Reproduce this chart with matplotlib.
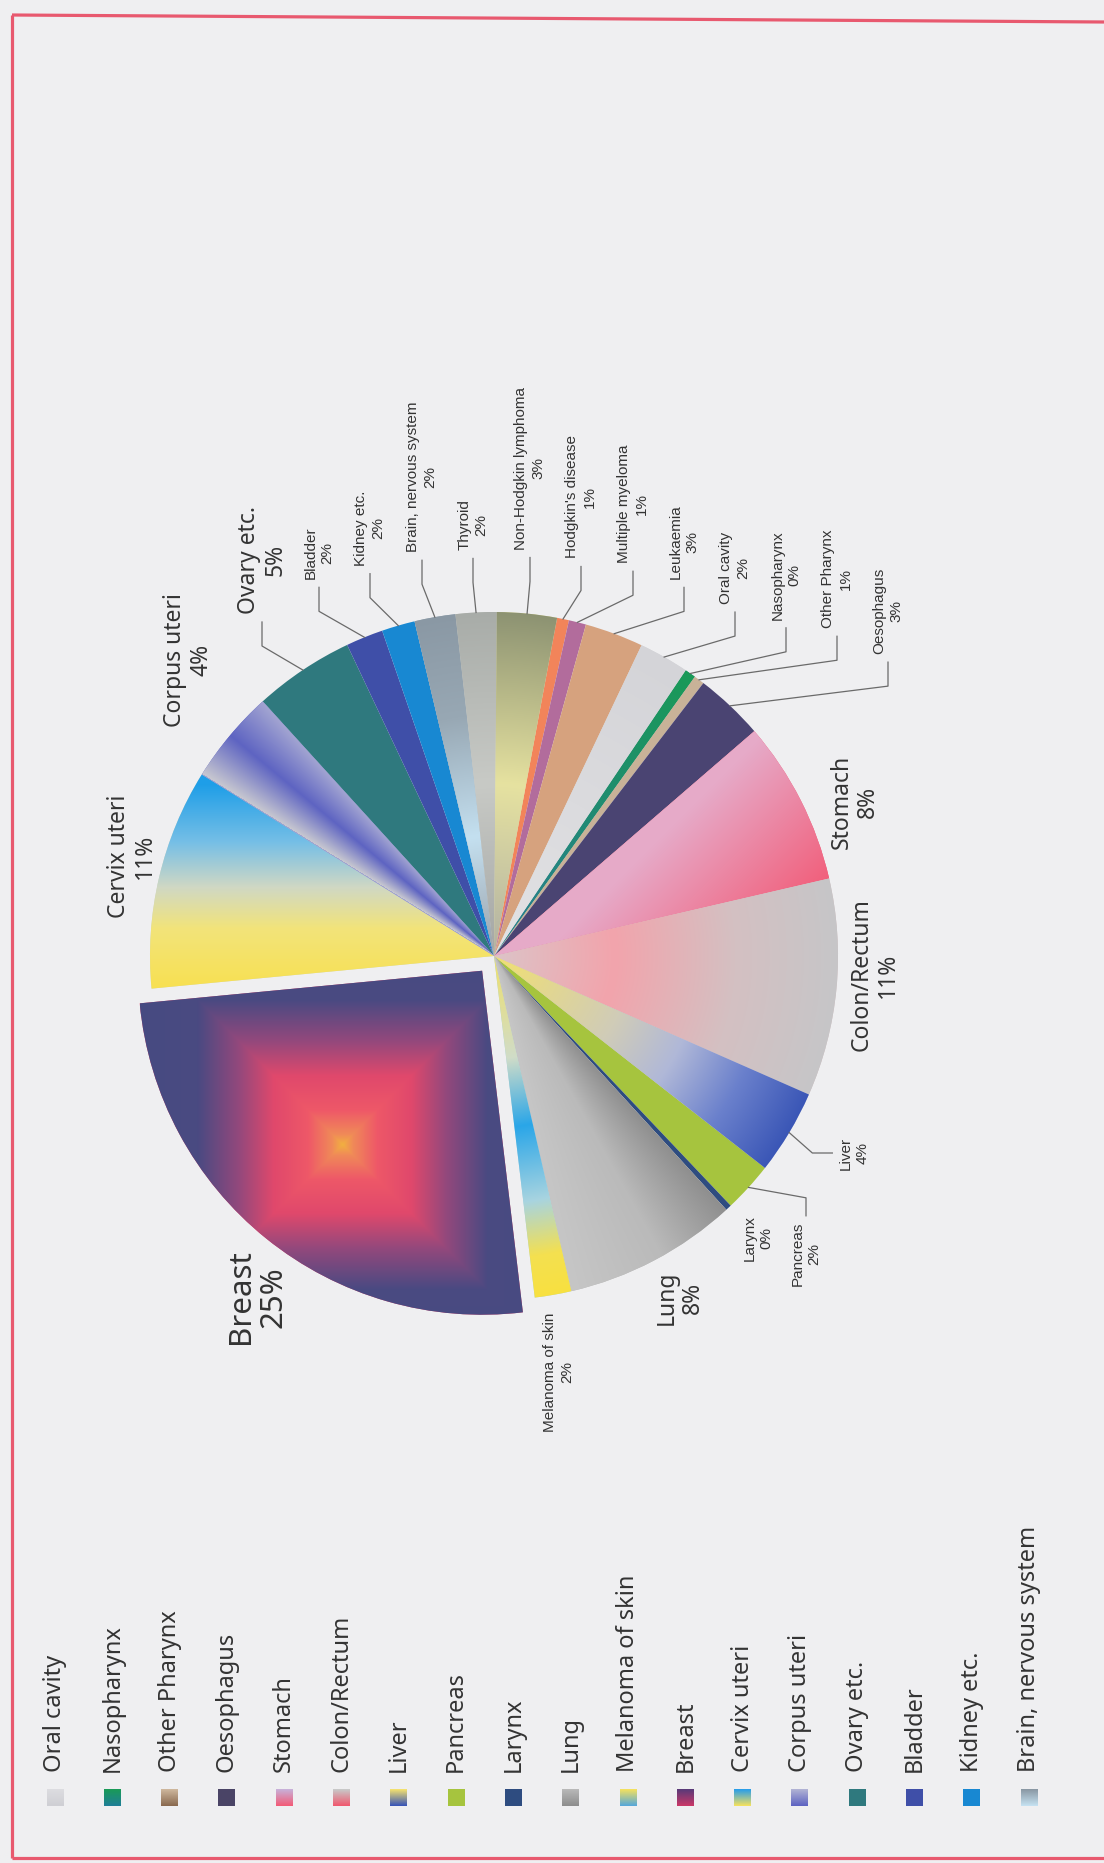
import numpy as np
import matplotlib
matplotlib.use("Agg")
import matplotlib.pyplot as plt
from matplotlib.colors import to_rgb

plt.rcParams['font.family'] = ['Noto Sans', 'DejaVu Sans']

W, H = 1104, 1863

# slices, clockwise from Oral cavity (shares)
sites = ["Oral cavity", "Nasopharynx", "Other Pharynx", "Oesophagus", "Stomach",
         "Colon/Rectum", "Liver", "Pancreas", "Larynx", "Lung", "Melanoma of skin",
         "Breast", "Cervix uteri", "Corpus uteri", "Ovary etc.", "Bladder",
         "Kidney etc.", "Brain, nervous system", "Thyroid", "Non-Hodgkin lymphoma",
         "Hodgkin's disease", "Multiple myeloma", "Leukaemia"]
share = [2.36, 0.50, 0.50, 3.25, 7.72, 10.22, 3.97, 2.36, 0.28, 8.19, 1.72,
         25.39, 10.36, 4.42, 4.72, 1.75, 1.56, 1.92, 1.92, 2.81, 0.56, 0.81, 2.75]
pct_text = [2, 0, 1, 3, 8, 11, 4, 2, 0, 8, 2, 25, 11, 4, 5, 2, 2, 2, 2, 3, 1, 1, 3]
explode = [0.055 if s == "Breast" else 0 for s in sites]

# label layout (image pixels, y down), size class, leader side
label_xy = [(735, 568), (786, 575), (837, 579), (888, 611), (855, 802),
            (875, 975), (854, 1153), (806, 1254), (758, 1238), (680, 1298),
            (559, 1372), (257, 1297), (132, 856), (188, 660), (262, 560),
            (319, 553), (370, 528), (422, 477), (473, 525), (530, 468),
            (581, 497), (633, 504), (684, 542)]
label_size = ['s', 's', 's', 's', 'm', 'm', 's', 's', 's', 'm', 's', 'l', 'm', 'm',
              'm', 's', 's', 's', 's', 's', 's', 's', 's']
leader = ['down', 'down', 'down', 'down', None, None, 'left', 'up', None, None, None,
          None, None, None, 'down', 'down', 'down', 'down', 'down', 'down', 'down',
          'down', 'down']

fills = [
    ('radial', [(0, '#e2e2e4'), (1, '#d4d4d8')]),
    ('radial', [(0, '#2a7c96'), (0.6, '#1f8e6c'), (1, '#1a9a58')]),
    ('solid', '#c8b298'),
    ('solid', '#4a4472'),
    ('diagonal', [(0.1, '#e6aac8'), (0.55, '#f25c78')]),
    ('radial', [(0, '#dcc4c8'), (0.35, '#f2a4ac'), (0.7, '#d4c0c2'), (1, '#c6c6c8')]),
    ('radial', [(0, '#f2e070'), (0.4, '#d0ccb8'), (0.6, '#b0b8d8'), (0.8, '#6a80cc'), (1, '#3a56b6')]),
    ('solid', '#a6c43e'),
    ('solid', '#2e4c80'),
    ('angular', [(0, '#8e8e8e'), (0.45, '#bababa'), (1, '#c6c6c6')]),
    ('radial', [(0, '#f0e068'), (0.3, '#d0dcc8'), (0.5, '#2aa6e8'), (0.72, '#a8d4e0'),
                (0.88, '#f4e050'), (1, '#f8e040')]),
    ('box', [(0, '#f2b040'), (0.03, '#f08a58'), (0.1, '#ee5868'), (0.2, '#e0486c'),
             (0.3, '#94487c'), (0.42, '#4a4a82'), (1, '#3e4a80')]),
    ('vertical', [(-0.1, '#f8e050'), (0.08, '#f2e47a'), (0.2, '#d0d8c4'), (0.33, '#76bfe6'),
                  (0.5, '#1e9ee8')]),
    ('angular', [(0, '#c8c8d0'), (0.5, '#5e64c2'), (1, '#a4a6d2')]),
    ('solid', '#2f797e'),
    ('solid', '#3f4fa8'),
    ('solid', '#1888d2'),
    ('radial', [(0, '#9aa0a8'), (0.35, '#c4e0f0'), (0.7, '#98a8b4'), (1, '#8a98a4')]),
    ('radial', [(0, '#a4a6a4'), (0.5, '#c8cac6'), (1, '#a8aca8')]),
    ('radial', [(0, '#b0b0a4'), (0.5, '#e6e2a0'), (1, '#8c9272')]),
    ('solid', '#f2845a'),
    ('solid', '#b26c9c'),
    ('solid', '#d6a27e'),
]
# legend swatches: top colour, bottom colour (as the small textured keys look)
legend_cols = [('#dcdce0', '#cfcfd4'), ('#1a9a58', '#1f7f96'), ('#cdb69c', '#8a6a50'),
               ('#4a4466', '#4a4466'), ('#c8b0d8', '#f25c78'), ('#c8c8c8', '#f05a70'),
               ('#f2e070', '#3a56b6'), ('#a6c43e', '#a6c43e'), ('#2e4c80', '#2e4c80'),
               ('#b8b8b8', '#8e8e8e'), ('#f2e060', '#58a8d8'), ('#5a3a78', '#c83868'),
               ('#2a9ee8', '#f2e060'), ('#b0b2d4', '#5e64c2'), ('#2f797e', '#2f797e'),
               ('#3f4fa8', '#3f4fa8'), ('#1888d2', '#1888d2'), ('#8a98a4', '#c4e0f0')]

bg = '#efeff1'
txt = '#333333'
pie_c = (494, H - 956)
pie_r = 344


def ramp(t, stops):
    pos = [p for p, _ in stops]
    cols = np.array([to_rgb(c) for _, c in stops])
    return np.stack([np.interp(t, pos, cols[:, k]) for k in range(3)], axis=-1)


def shade(ax, w, kind, stops):
    cx, cy = w.center
    r = w.r
    a = np.radians(np.linspace(w.theta1, w.theta2, 60))
    xs = np.r_[cx, cx + r * np.cos(a)]
    ys = np.r_[cy, cy + r * np.sin(a)]
    x0, x1, y0, y1 = xs.min(), xs.max(), ys.min(), ys.max()
    X, Y = np.meshgrid(np.arange(x0, x1 + 1, 1.0), np.arange(y0, y1 + 1, 1.0))
    dx, dy = (X - cx) / r, (Y - cy) / r
    if kind == 'radial':
        t = np.hypot(dx, dy)
    elif kind == 'angular':
        ang = np.degrees(np.arctan2(dy, dx))
        t = ((w.theta2 - ang) % 360) / (w.theta2 - w.theta1)
    elif kind == 'vertical':
        t = (Y - pie_c[1]) / r
    elif kind == 'diagonal':
        t = (dx - dy) / np.sqrt(2)
    else:  # box gradient around a hot spot inside the slice
        mid = np.radians((w.theta1 + w.theta2) / 2)
        t = np.maximum(np.abs(dx - 0.65 * np.cos(mid)), np.abs(dy - 0.65 * np.sin(mid)))
    img = ramp(t, stops).astype(np.float32)
    im = ax.imshow(img, extent=[x0, x1 + 1, y0, y1 + 1], origin='lower',
                   interpolation='bilinear', zorder=2)
    im.set_clip_path(w)


fig = plt.figure(figsize=(W / 100, H / 100), dpi=100, facecolor=bg)
ax = fig.add_axes([0, 0, 1, 1])
ax.set_facecolor(bg)

base = [f[1] if f[0] == 'solid' else f[1][len(f[1]) // 2][1] for f in fills]
wedges, _ = ax.pie(share, startangle=64.6, counterclock=False, radius=pie_r,
                   center=pie_c, explode=[e * pie_r for e in explode], colors=base,
                   wedgeprops=dict(linewidth=0, zorder=1))
for w, (kind, spec) in zip(wedges, fills):
    if kind != 'solid':
        shade(ax, w, kind, spec)

font_for = {
    's': dict(family='Liberation Sans', size=11, linespacing=1.3),
    'm': dict(family='Noto Sans', size=16.5, linespacing=1.15),
    'l': dict(family='Noto Sans', size=22.5, linespacing=1.1),
}
texts = []
for name, p, (lx, ly), sz in zip(sites, pct_text, label_xy, label_size):
    t = ax.text(lx, H - ly, f"{name}\n{p}%", rotation=90, ha='center', va='center',
                multialignment='center', color=txt, zorder=5, **font_for[sz])
    texts.append(t)

# legend along the bottom, entries past the right edge are cut off
leg_x0, leg_dx = 55, 57.3
for i, (name, (c_top, c_bot)) in enumerate(zip(sites, legend_cols)):
    x = leg_x0 + i * leg_dx
    sw = ramp(np.linspace(0, 1, 17)[::-1], [(0, c_bot), (1, c_top)])
    sw = np.repeat(sw[:, None, :], 17, axis=1).astype(np.float32)
    ax.imshow(sw, extent=[x - 8.5, x + 8.5, H - 1806.5, H - 1789.5], zorder=3)
    ax.text(x, H - 1772, name, rotation=90, ha='center', va='bottom', color=txt,
            family='Noto Sans', size=17, zorder=5)

ax.set_xlim(0, W)
ax.set_ylim(0, H)
ax.set_aspect('auto')
ax.axis('off')

fig.canvas.draw()
renderer = fig.canvas.get_renderer()
inv = ax.transData.inverted()
for w, t, side in zip(wedges, texts, leader):
    if side is None:
        continue
    (bx0, by0), (bx1, by1) = inv.transform(t.get_window_extent(renderer).get_points())
    mid = np.radians((w.theta1 + w.theta2) / 2)
    ex = w.center[0] + w.r * np.cos(mid)
    ey = w.center[1] + w.r * np.sin(mid)
    if side == 'down':
        sx, sy = (bx0 + bx1) / 2, by0 - 8
        kx, ky = sx, sy - 24
    elif side == 'up':
        sx, sy = (bx0 + bx1) / 2, by1 + 6
        kx, ky = sx, sy + 18
    else:
        sx, sy = bx0 - 6, (by0 + by1) / 2
        kx, ky = sx - 20, sy
    ax.plot([sx, kx, ex], [sy, ky, ey], color='#6a6a6a', lw=0.9, zorder=4)

# red frame
red = '#e8596f'
ax.plot([12, 12], [H - 15, H - 1858], color=red, lw=2.3, zorder=6, solid_capstyle='butt')
ax.plot([12, W], [H - 1858, H - 1858], color=red, lw=2.3, zorder=6, solid_capstyle='butt')
ax.plot([12, W], [H - 15, H - 22], color=red, lw=2.3, zorder=6, solid_capstyle='butt')

fig.savefig("out.png", dpi=100, facecolor=bg)
